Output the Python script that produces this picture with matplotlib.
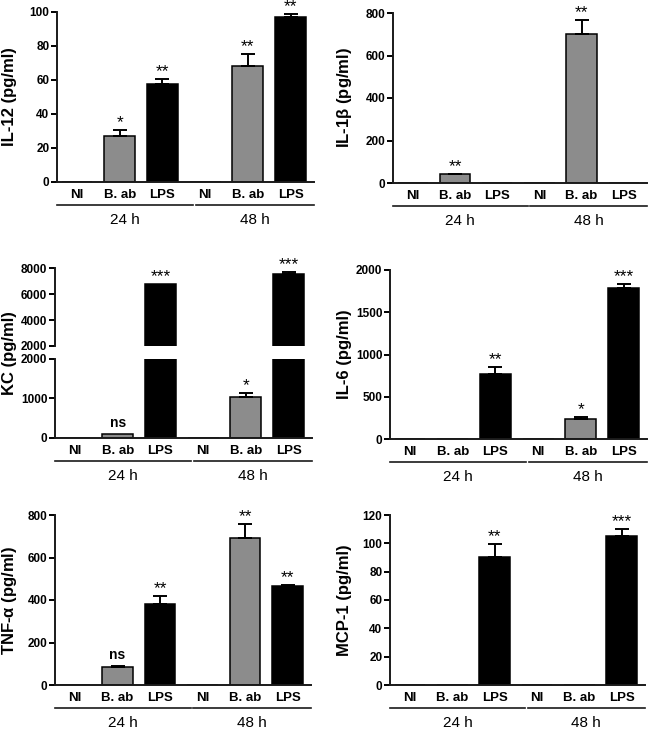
import matplotlib
matplotlib.use("Agg")
import matplotlib.pyplot as plt
import numpy as np

plt.rcParams['font.family'] = ['Liberation Sans', 'DejaVu Sans']

categories = ["NI", "B. ab", "LPS", "NI", "B. ab", "LPS"]
groups = ["24 h", "48 h"]
bar_colors = ["#8c8c8c", "#8c8c8c", "#000000", "#8c8c8c", "#8c8c8c", "#000000"]

il12_vals = [0, 27.1, 57.8, 0, 68.4, 96.9]
il12_err = [0, 3.5, 2.8, 0, 6.7, 1.9]
il12_sig = ["", "*", "**", "", "**", "**"]

il1b_vals = [0, 41, 0, 0, 699, 0]
il1b_err = [0, 3, 0, 0, 66, 0]
il1b_sig = ["", "**", "", "", "**", ""]

kc_vals = [0, 94, 6750, 0, 1034, 7520]
kc_err = [0, 0, 0, 0, 94, 180]
kc_sig = ["", "ns", "***", "", "*", "***"]

il6_vals = [0, 0, 768, 0, 240, 1783]
il6_err = [0, 0, 86, 0, 16, 52]
il6_sig = ["", "", "**", "", "*", "***"]

tnf_vals = [0, 83, 383, 0, 692, 464]
tnf_err = [0, 7, 35, 0, 67, 8]
tnf_sig = ["", "ns", "**", "", "**", "**"]

mcp_vals = [0, 0, 90.6, 0, 0, 105.4]
mcp_err = [0, 0, 8.7, 0, 0, 4.6]
mcp_sig = ["", "", "**", "", "", "***"]

W, H = 650, 733
fig = plt.figure(figsize=(6.5, 7.33), dpi=100)

SPINE_LW = 1.4
XLIM = (-0.47, 5.55)
x = np.arange(len(categories))


def rect(l, r, t, b):
    return [l / W, 1 - b / H, (r - l) / W, (b - t) / H]


def style(ax, bottom=True):
    for s in ["top", "right"]:
        ax.spines[s].set_visible(False)
    ax.spines["left"].set_linewidth(SPINE_LW)
    ax.spines["bottom"].set_linewidth(SPINE_LW)
    ax.spines["left"].set_color("#1a1a1a")
    ax.spines["bottom"].set_color("#1a1a1a")
    if not bottom:
        ax.spines["bottom"].set_visible(False)
    ax.tick_params(axis="y", direction="out", length=4, width=SPINE_LW,
                   labelsize=8.5, pad=1.5)
    for lab in ax.get_yticklabels():
        lab.set_fontweight("bold")
    ax.set_xlim(*XLIM)


def draw_bars(ax, vals, errs):
    ax.bar(x, vals, width=0.72, color=bar_colors, edgecolor="black",
           linewidth=1.1, zorder=2)
    for xi, v, e in zip(x, vals, errs):
        if e > 0:
            ax.errorbar(xi, v, yerr=[[0], [e]], fmt="none", ecolor="black",
                        elinewidth=1.4, capsize=5, capthick=1.4, zorder=3)


def annotate(ax, vals, errs, sigs):
    for xi, v, e, s in zip(x, vals, errs, sigs):
        if not s:
            continue
        if s == "ns":
            ax.annotate(s, (xi, v + e), xytext=(0, 3), textcoords="offset points",
                        ha="center", va="bottom", fontsize=10, fontweight="bold")
        else:
            ax.annotate(s, (xi, v + e), xytext=(0, 0), textcoords="offset points",
                        ha="center", va="bottom", fontsize=12.5)


def xlabels(ax):
    ax.set_xticks(x)
    ax.set_xticklabels(categories, fontsize=9.5, fontweight="bold")
    ax.tick_params(axis="x", length=0, pad=5)
    bb = ax.get_position()
    h_px = bb.height * H
    y_line = -23 / h_px
    y_grp = -38 / h_px
    tr = ax.get_xaxis_transform()
    spans = [(XLIM[0], 2.72), (2.78, XLIM[1])]
    for (a, b), g in zip(spans, groups):
        ax.plot([a, b], [y_line, y_line], transform=tr, color="#1a1a1a",
                lw=1.2, clip_on=False)
        ax.text((a + b) / 2, y_grp, g, transform=tr, ha="center", va="center",
                fontsize=11)


def ylabel(xpix, ycenter_pix, text):
    fig.text(xpix / W, 1 - ycenter_pix / H, text, rotation=90, ha="center",
             va="center", fontsize=12, fontweight="bold")


def simple_panel(r, vals, errs, sigs, ylim, ticks, label, label_x):
    ax = fig.add_axes(rect(*r))
    draw_bars(ax, vals, errs)
    ax.set_ylim(*ylim)
    ax.set_yticks(ticks)
    ax.set_yticklabels([str(t) for t in ticks])
    style(ax)
    annotate(ax, vals, errs, sigs)
    xlabels(ax)
    ylabel(label_x, (r[2] + r[3]) / 2, label)
    return ax


LX_LEFT, LX_RIGHT = 10, 345

simple_panel((57, 314, 12, 182), il12_vals, il12_err, il12_sig,
             (0, 100), [0, 20, 40, 60, 80, 100], "IL-12 (pg/ml)", LX_LEFT)
simple_panel((393, 647, 13, 183), il1b_vals, il1b_err, il1b_sig,
             (0, 800), [0, 200, 400, 600, 800], r"IL-1$\mathregular{\beta}$ (pg/ml)", LX_RIGHT)
simple_panel((390, 647, 270, 439), il6_vals, il6_err, il6_sig,
             (0, 2000), [0, 500, 1000, 1500, 2000], "IL-6 (pg/ml)", LX_RIGHT)
simple_panel((55, 311, 515, 685), tnf_vals, tnf_err, tnf_sig,
             (0, 800), [0, 200, 400, 600, 800], r"TNF-$\mathregular{\alpha}$ (pg/ml)", LX_LEFT)
simple_panel((390, 645, 515, 685), mcp_vals, mcp_err, mcp_sig,
             (0, 120), [0, 20, 40, 60, 80, 100, 120], "MCP-1 (pg/ml)", LX_RIGHT)

# KC broken axis
ax_top = fig.add_axes(rect(55, 312, 268, 346))
ax_bot = fig.add_axes(rect(55, 312, 359, 438))
for ax in (ax_top, ax_bot):
    draw_bars(ax, kc_vals, kc_err)
ax_top.set_ylim(2000, 8000)
ax_top.set_yticks([2000, 4000, 6000, 8000])
ax_top.set_yticklabels(["2000", "4000", "6000", "8000"])
ax_bot.set_ylim(0, 2000)
ax_bot.set_yticks([0, 1000, 2000])
ax_bot.set_yticklabels(["0", "1000", "2000"])
style(ax_top, bottom=False)
style(ax_bot)
ax_top.set_xticks([])
top_sigs = [s if v > 2000 else "" for v, s in zip(kc_vals, kc_sig)]
bot_sigs = [s if v <= 2000 else "" for v, s in zip(kc_vals, kc_sig)]
annotate(ax_top, kc_vals, kc_err, top_sigs)
annotate(ax_bot, kc_vals, kc_err, bot_sigs)
xlabels(ax_bot)
ylabel(LX_LEFT, 353, "KC (pg/ml)")

fig.savefig("out.png", dpi=100, facecolor="white")
